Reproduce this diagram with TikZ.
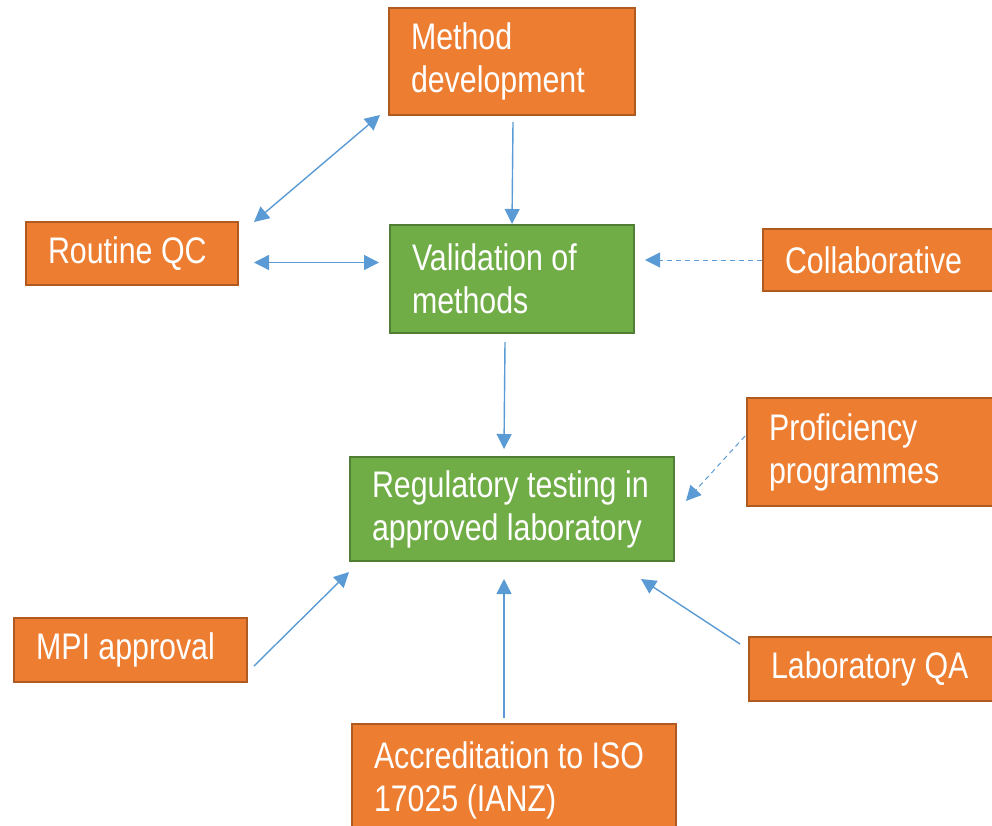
\documentclass[tikz,border=0pt]{standalone}
\usepackage{fontspec}
\setmainfont[FakeStretch=0.82]{Liberation Sans}
\usepackage{xcolor}
\usepackage{tikz}
\usetikzlibrary{arrows.meta,positioning,calc}
\definecolor{orangefill}{HTML}{ED7D31}
\definecolor{orangeline}{HTML}{AE5A21}
\definecolor{greenfill}{HTML}{70AD47}
\definecolor{greenline}{HTML}{507E32}
\definecolor{linkblue}{HTML}{5B9BD5}

\begin{document}
\begin{tikzpicture}[x=1pt, y=-1pt,
  orangebox/.style={draw=orangeline, fill=orangefill, line width=2pt,
    inner xsep=22pt, inner ysep=2pt, align=left, text=white,
    font=\fontsize{37}{43}\selectfont,
    execute at begin node={\spaceskip=8.5pt plus 2pt minus 1pt\xspaceskip=8.5pt}},
  greenbox/.style={orangebox, draw=greenline, fill=greenfill},
  arrow/.style={-{Triangle[length=15pt,width=15pt]}, line width=1.4pt, draw=linkblue},
  twoway/.style={arrow, {Triangle[length=15pt,width=15pt]}-{Triangle[length=15pt,width=15pt]}},
  dasharrow/.style={arrow, line width=1pt, dash pattern=on 5pt off 4pt}
]
\clip (0,0) rectangle (992,825);
\node[orangebox, anchor=north west, text width=202pt, minimum height=107pt] (method) at (388,7) {Method\\development};
\node[greenbox, below=108pt of method, text width=200pt, minimum height=108pt] (valid) {Validation of\\methods};
\node[greenbox, below=122pt of valid, text width=280pt, minimum height=104pt] (reg) {Regulatory testing in\\approved laboratory};
\node[orangebox, anchor=north west, text width=168pt, minimum height=63pt] (routine) at (25,221) {Routine QC};
\node[orangebox, anchor=north west, text width=196pt, minimum height=62pt] (collab) at (762,228) {Collaborative};
\node[orangebox, anchor=north west, text width=212pt, minimum height=108pt] (profic) at (746,397) {Proficiency\\programmes};
\node[orangebox, anchor=north west, text width=189pt, minimum height=64pt] (mpi) at (13,617) {MPI approval};
\node[orangebox, anchor=north west, text width=210pt, minimum height=64pt] (labqa) at (748,636) {Laboratory QA};
\node[orangebox, anchor=north west, text width=280pt, minimum height=112pt] (accred) at (351,723) {Accreditation to ISO\\17025 (IANZ)};
\draw[twoway] ($(routine.north east)+(15,1)$) -- ($(method.south west)+(-8,-1)$);
\draw[arrow] ($(method.south)+(1,6)$) -- (valid.north);
\draw[twoway] ($(routine.east)+(15,9)$) -- ($(valid.west |- routine.east)+(-10,9)$);
\draw[dasharrow] (collab.west) -- ($(valid.east |- collab.west)+(10,0)$);
\draw[arrow] ($(valid.south)+(-7,8)$) -- ($(reg.north)+(-8,-7)$);
\draw[dasharrow] ($(profic.west)+(-1,-16)$) -- ($(reg.east)+(11,-8)$);
\draw[arrow] ($(mpi.east)+(6,16)$) -- ($(reg.south west)+(0,10)$);
\draw[arrow] ($(accred.north)+(-10,-5)$) -- ($(reg.south)+(-8,17)$);
\draw[arrow] ($(labqa.west)+(-8,-25)$) -- ($(reg.south east)+(-34,17)$);
\end{tikzpicture}
\end{document}
